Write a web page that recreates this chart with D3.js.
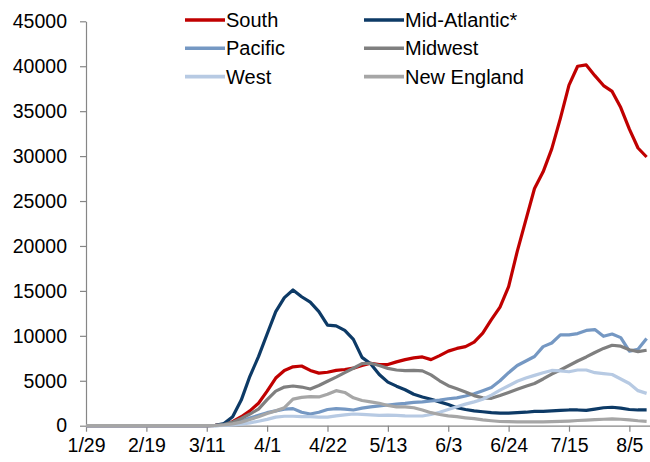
<!DOCTYPE html>
<html>
<head>
<meta charset="utf-8">
<script src="https://cdn.jsdelivr.net/npm/d3@7"></script>
<style>
  body { margin: 0; background: #fff; }
  text { font-family: Arial, "Liberation Sans", sans-serif; fill: #000; }
</style>
</head>
<body>
<svg id="chart" width="650" height="462"></svg>
<script>
// dates (2020), 3-day steps from 3/11
var dates = ["1/29","3/11","3/14","3/17","3/20","3/23","3/26","3/29","4/1","4/4","4/7","4/10","4/13","4/16","4/19",
  "4/22","4/25","4/28","5/1","5/4","5/7","5/10","5/13","5/16","5/19","5/22","5/25","5/28","5/31","6/3","6/6",
  "6/9","6/12","6/15","6/18","6/21","6/24","6/27","6/30","7/3","7/6","7/9","7/12","7/15","7/18","7/21","7/24",
  "7/27","7/30","8/2","8/5","8/8","8/11"];

var south = [0,0,30,150,450,1000,1650,2500,3850,5300,6150,6550,6640,6150,5850,
  5950,6150,6250,6400,6700,6950,6800,6800,7100,7350,7550,7650,7350,7800,8300,8600,
  8800,9300,10300,11800,13200,15470,19400,22900,26400,28250,30800,34200,37900,40000,40150,38950,
  37850,37200,35400,33000,30900,29900];

var midAtlantic = [0,0,50,250,1000,2850,5500,7680,10200,12700,14250,15100,14350,13750,12700,
  11200,11100,10600,9600,7600,6900,5700,4850,4400,4000,3500,3200,2950,2650,2350,2000,
  1800,1650,1550,1450,1400,1400,1450,1500,1600,1600,1650,1700,1750,1750,1700,1850,
  2000,2050,1950,1800,1750,1750];

var pacific = [0,0,0,50,200,500,850,1150,1450,1650,1850,1900,1500,1300,1500,
  1800,1900,1850,1750,1950,2100,2200,2300,2400,2480,2600,2650,2750,2850,3000,3100,
  3300,3550,3900,4250,5000,5900,6700,7200,7700,8800,9200,10100,10100,10250,10600,10700,
  9950,10200,9800,8300,8500,9700];

var midwest = [0,0,30,120,400,800,1300,1850,2900,3850,4300,4420,4300,4080,4480,
  4950,5400,5900,6390,6900,6950,6700,6380,6200,6120,6150,6100,5650,5000,4450,4100,
  3750,3350,3100,3050,3350,3700,4050,4400,4700,5200,5750,6200,6700,7200,7650,8150,
  8600,8950,8850,8450,8250,8400];

var west = [0,0,0,30,80,180,320,500,700,950,1050,1050,1000,1000,950,
  950,1100,1200,1300,1250,1200,1150,1180,1150,1100,1080,1080,1250,1500,1800,2100,
  2400,2650,2950,3400,3950,4450,4950,5300,5600,5900,6150,6100,6000,6200,6200,5900,
  5800,5700,5200,4700,3900,3600];

var newEngland = [0,0,20,80,200,400,700,1000,1350,1650,2000,2950,3150,3230,3200,
  3500,3900,3700,3100,2800,2650,2500,2250,2100,2100,2000,1750,1450,1250,1100,1000,
  880,780,650,550,470,450,430,420,420,430,450,480,520,580,620,680,
  720,760,720,650,550,480];

var seriesNames = ["South","Mid-Atlantic*","Pacific","Midwest","West","New England"];
var seriesColors = ["#c00000","#0d3a66","#7598c3","#7f7f7f","#b7cae3","#a6a6a6"];
var seriesValues = [south, midAtlantic, pacific, midwest, west, newEngland];

var xTickLabels = ["1/29","2/19","3/11","4/1","4/22","5/13","6/3","6/24","7/15","8/5"];
var yTicks = [0,5000,10000,15000,20000,25000,30000,35000,40000,45000];

var parse = function(s) { return d3.timeParse("%m/%d/%Y")(s + "/2020"); };

var svg = d3.select("#chart");

var x = d3.scaleTime()
  .domain([parse("1/29"), parse("8/12")])
  .range([86, 649.5]);
var y = d3.scaleLinear()
  .domain([0, 45000])
  .range([425.7, 21.3]);

// axes
var yAxis = svg.append("g")
  .attr("transform", "translate(86,0)")
  .call(d3.axisLeft(y).tickValues(yTicks).tickFormat(d3.format("d")).tickSize(6).tickSizeOuter(0).tickPadding(13));
var xAxis = svg.append("g")
  .attr("transform", "translate(0,425.7)")
  .call(d3.axisBottom(x).tickValues(xTickLabels.map(parse)).tickFormat(d3.timeFormat("%-m/%-d")).tickSize(6).tickSizeOuter(0).tickPadding(6));

svg.selectAll(".domain, .tick line").attr("stroke", "#868686").attr("stroke-width", 1.2);
svg.selectAll(".tick text").attr("font-size", "19.5px").attr("fill", "#000");

// lines
var line = d3.line()
  .x(function(d, i) { return x(parse(dates[i])); })
  .y(function(d) { return y(d); });

seriesValues.forEach(function(vals, k) {
  svg.append("path")
    .datum(vals)
    .attr("fill", "none")
    .attr("stroke", seriesColors[k])
    .attr("stroke-width", 3.2)
    .attr("stroke-linejoin", "round")
    .attr("d", line);
});

// legend
var legend = svg.append("g");
seriesNames.forEach(function(name, k) {
  var col = k % 2, row = Math.floor(k / 2);
  var lx = col === 0 ? 185 : 364;
  var ly = 20 + row * 28.3;
  legend.append("line")
    .attr("x1", lx).attr("x2", lx + 40)
    .attr("y1", ly).attr("y2", ly)
    .attr("stroke", seriesColors[k])
    .attr("stroke-width", 3.6);
  legend.append("text")
    .attr("x", lx + 41).attr("y", ly)
    .attr("dy", "0.35em")
    .attr("font-size", "20px")
    .text(name);
});
</script>
</body>
</html>
